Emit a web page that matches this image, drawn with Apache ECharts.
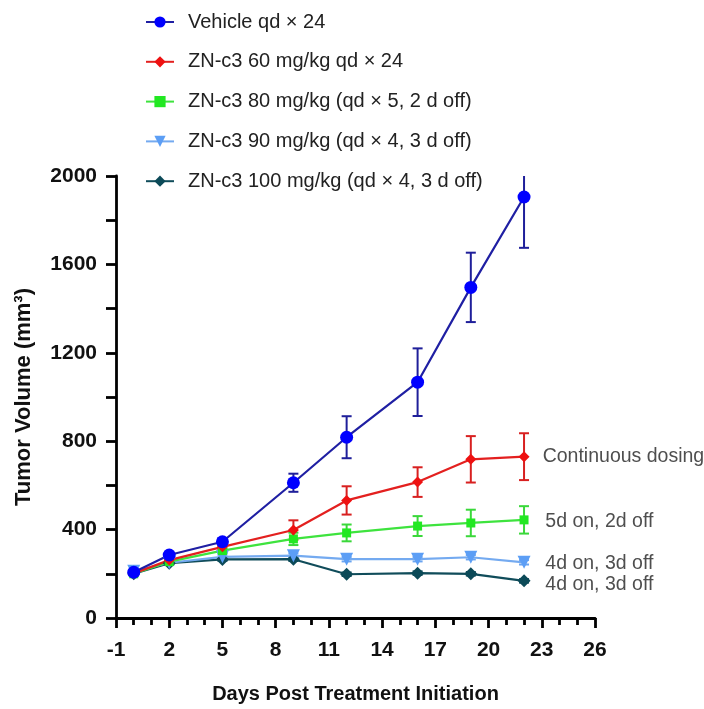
<!DOCTYPE html>
<html>
<head>
<meta charset="utf-8">
<script src="https://cdn.jsdelivr.net/npm/echarts@6/dist/echarts.min.js"></script>
<style>html,body{margin:0;padding:0;background:#fff}#c{width:704px;height:709px}</style>
</head>
<body>
<div id="c"></div>
<script>
var days = [0, 2, 5, 9, 12, 16, 19, 22];
var seriesNames = [
  'Vehicle qd \u00d7 24',
  'ZN-c3 60 mg/kg qd \u00d7 24',
  'ZN-c3 80 mg/kg (qd \u00d7 5, 2 d off)',
  'ZN-c3 90 mg/kg (qd \u00d7 4, 3 d off)',
  'ZN-c3 100 mg/kg (qd \u00d7 4, 3 d off)'
];
var vehicle = [207, 285, 345, 612, 818, 1067, 1496, 1905];
var vehicleErr = [10, 12, 15, 41, 95, 153, 157, 230];
var zn60 = [202, 262, 322, 398, 532, 615, 718, 730];
var zn60Err = [8, 10, 12, 44, 64, 67, 105, 106];
var zn80 = [200, 255, 305, 358, 385, 416, 430, 444];
var zn80Err = [8, 9, 11, 28, 38, 45, 60, 62];
var zn90 = [212, 250, 277, 282, 266, 266, 275, 252];
var zn90Err = [8, 8, 9, 10, 10, 10, 10, 10];
var zn100 = [200, 248, 265, 266, 198, 203, 200, 168];
var zn100Err = [6, 6, 6, 8, 8, 8, 8, 8];
var annotations = [
  {text: 'Continuous dosing', x: 23.05, y: 728},
  {text: '5d on, 2d off', x: 23.2, y: 434},
  {text: '4d on, 3d off', x: 23.2, y: 244},
  {text: '4d on, 3d off', x: 23.2, y: 149}
];
var yTicks = {min: 0, max: 2000, interval: 400};
var xTicks = {min: -1, max: 26, interval: 3};

var FONT = 'Liberation Sans, Arial, sans-serif';
var groups = [
  {name: seriesNames[0], vals: vehicle, err: vehicleErr, line: '#1f1fa3', mark: '#0000ff', errColor: '#1f1f9a', symbol: 'circle', size: 13},
  {name: seriesNames[1], vals: zn60, err: zn60Err, line: '#e3201f', mark: '#ee1111', errColor: '#d82020', symbol: 'diamond', size: 11},
  {name: seriesNames[2], vals: zn80, err: zn80Err, line: '#3ee33e', mark: '#22e822', errColor: '#3ad83a', symbol: 'rect', size: 9},
  {name: seriesNames[3], vals: zn90, err: zn90Err, line: '#74aaf0', mark: '#5c9ef5', errColor: '#6aa4f0', symbol: 'triangle', size: 13, rotate: 180},
  {name: seriesNames[4], vals: zn100, err: zn100Err, line: '#104c5a', mark: '#0c4a58', errColor: '#104c5a', symbol: 'diamond', size: 13}
];

function errRender(color) {
  return function (params, api) {
    var x = api.value(0), lo = Math.max(api.value(1), yTicks.min), hi = Math.min(api.value(2), yTicks.max);
    var pLo = api.coord([x, lo]), pHi = api.coord([x, hi]);
    var hw = 5;
    var children = [{type: 'line', shape: {x1: pLo[0], y1: pLo[1], x2: pHi[0], y2: pHi[1]}, style: {stroke: color, lineWidth: 2}}];
    if (api.value(1) >= yTicks.min) children.push({type: 'line', shape: {x1: pLo[0] - hw, y1: pLo[1], x2: pLo[0] + hw, y2: pLo[1]}, style: {stroke: color, lineWidth: 2}});
    if (api.value(2) <= yTicks.max) children.push({type: 'line', shape: {x1: pHi[0] - hw, y1: pHi[1], x2: pHi[0] + hw, y2: pHi[1]}, style: {stroke: color, lineWidth: 2}});
    return {type: 'group', children: children};
  };
}

var series = [];
groups.slice().reverse().forEach(function (g) {
  series.push({
    name: g.name + ' err', type: 'custom', renderItem: errRender(g.errColor),
    data: days.map(function (d, i) { return [d, g.vals[i] - g.err[i], g.vals[i] + g.err[i]]; }),
    encode: {x: 0, y: [1, 2]}, z: 2, silent: true
  });
  series.push({
    name: g.name, type: 'line',
    data: days.map(function (d, i) { return [d, g.vals[i]]; }),
    symbol: g.symbol, symbolSize: g.size, symbolRotate: g.rotate || 0, showSymbol: true,
    lineStyle: {color: g.line, width: 2.2}, itemStyle: {color: g.mark, opacity: 1},
    z: 3, animation: false
  });
});
series.push({
  type: 'scatter', symbolSize: 0, silent: true,
  data: annotations.map(function (a) { return {value: [a.x, a.y], label: {formatter: a.text}}; }),
  label: {show: true, position: 'right', distance: 0, fontFamily: FONT, fontSize: 19.5, color: '#222'}
});

var chart = echarts.init(document.getElementById('c'));
chart.setOption({
  animation: false,
  backgroundColor: '#fff',
  grid: {left: 116, right: 109, top: 176, bottom: 91, containLabel: false},
  legend: {
    data: seriesNames,
    orient: 'vertical', left: 140, top: 7,
    itemWidth: 28, itemHeight: 14, itemGap: 19.8,
    textStyle: {fontFamily: FONT, fontSize: 20, color: '#222', padding: [0, 0, 0, 9]}
  },
  xAxis: {
    type: 'value', min: xTicks.min, max: xTicks.max, interval: xTicks.interval,
    name: 'Days Post Treatment Initiation', nameLocation: 'middle', nameGap: 66,
    nameTextStyle: {fontFamily: FONT, fontSize: 20, fontWeight: 'bold', color: '#111'},
    axisLine: {show: true, onZero: false, lineStyle: {color: '#000', width: 2.8}},
    axisTick: {show: true, length: 10, lineStyle: {color: '#000', width: 2.8}},
    minorTick: {show: true, splitNumber: 3, length: 7, lineStyle: {color: '#000', width: 2.8}},
    axisLabel: {fontFamily: FONT, fontSize: 21, fontWeight: 'bold', color: '#111', margin: 22},
    splitLine: {show: false}
  },
  yAxis: {
    type: 'value', min: yTicks.min, max: yTicks.max, interval: yTicks.interval,
    name: 'Tumor Volume (mm\u00b3)', nameLocation: 'middle', nameGap: 81,
    nameTextStyle: {fontFamily: FONT, fontSize: 22, fontWeight: 'bold', color: '#111'},
    axisLine: {show: true, onZero: false, lineStyle: {color: '#000', width: 2.8}},
    axisTick: {show: true, length: 10, lineStyle: {color: '#000', width: 2.8}},
    minorTick: {show: true, splitNumber: 2, length: 10, lineStyle: {color: '#000', width: 2.8}},
    axisLabel: {fontFamily: FONT, fontSize: 21, fontWeight: 'bold', color: '#111', margin: 19,
      formatter: function (v) { return String(v); }},
    splitLine: {show: false}
  },
  series: series
});
</script>
</body>
</html>
